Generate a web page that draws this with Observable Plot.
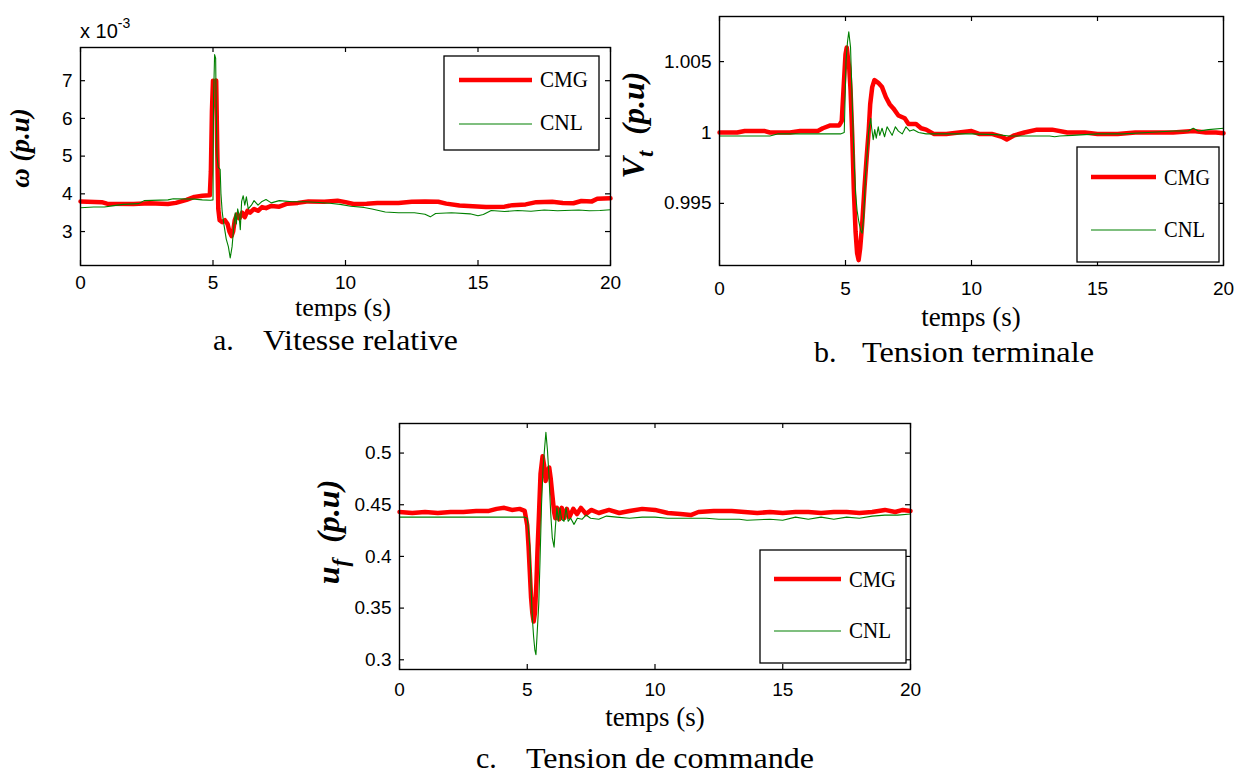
<!DOCTYPE html>
<html>
<head>
<meta charset="utf-8">
<script src="https://cdn.jsdelivr.net/npm/d3@7"></script>
<script src="https://cdn.jsdelivr.net/npm/@observablehq/plot@0.6"></script>
<style>
  html, body { margin: 0; padding: 0; background: #fff; }
  #page { position: relative; width: 1245px; height: 778px; overflow: hidden; background: #fff; }
  .panel { position: absolute; }
  #overlay { position: absolute; left: 0; top: 0; pointer-events: none; }
  .serif { font-family: "Liberation Serif", "Times New Roman", serif; }
  .sans { font-family: "Liberation Sans", Arial, sans-serif; }
</style>
</head>
<body>
<div id="page">
  <div class="panel" id="pa" style="left:0px;top:0px;width:640px;"></div>
  <div class="panel" id="pb" style="left:620px;top:0px;width:625px;"></div>
  <div class="panel" id="pc" style="left:320px;top:390px;width:620px;"></div>
  <svg id="overlay" width="1245" height="778" xmlns="http://www.w3.org/2000/svg">
    <!-- panel a texts -->
    <text class="sans" x="80" y="38" font-size="20">x 10<tspan font-size="14" dy="-10">-3</tspan></text>
    <text class="serif" transform="translate(29,148) rotate(-90)" text-anchor="middle" font-size="27" font-weight="bold" font-style="italic">ω (p.u)</text>
    <text class="serif" x="343" y="316" text-anchor="middle" font-size="26">temps (s)</text>
    <text class="serif" x="213" y="350" font-size="30">a.</text>
    <text class="serif" x="263" y="350" font-size="30" textLength="195" lengthAdjust="spacingAndGlyphs">Vitesse relative</text>
    <!-- legend a -->
    <rect x="444" y="56" width="155" height="94" fill="#fff" stroke="#000" stroke-width="1.3"/>
    <line x1="459" y1="80" x2="532" y2="80" stroke="#ff0000" stroke-width="4.5"/>
    <line x1="459" y1="124" x2="532" y2="124" stroke="#008000" stroke-width="1.1"/>
    <text class="serif" x="540" y="87" font-size="24" textLength="48" lengthAdjust="spacingAndGlyphs">CMG</text>
    <text class="serif" x="540" y="130" font-size="24" textLength="43" lengthAdjust="spacingAndGlyphs">CNL</text>

    <!-- panel b texts -->
    <text class="serif" transform="translate(644,125) rotate(-90)" text-anchor="middle" font-size="32" font-weight="bold" font-style="italic">V<tspan font-size="23" dy="9">t</tspan><tspan dy="-9" xml:space="preserve">  (p.u)</tspan></text>
    <text class="serif" x="971" y="326" text-anchor="middle" font-size="27">temps (s)</text>
    <text class="serif" x="814" y="362" font-size="30">b.</text>
    <text class="serif" x="862" y="362" font-size="30" textLength="232" lengthAdjust="spacingAndGlyphs">Tension terminale</text>
    <!-- legend b -->
    <rect x="1077" y="147" width="142" height="115" fill="#fff" stroke="#000" stroke-width="1.3"/>
    <line x1="1091" y1="177" x2="1156" y2="177" stroke="#ff0000" stroke-width="4.5"/>
    <line x1="1091" y1="230" x2="1156" y2="230" stroke="#008000" stroke-width="1.1"/>
    <text class="serif" x="1164" y="185" font-size="24" textLength="46" lengthAdjust="spacingAndGlyphs">CMG</text>
    <text class="serif" x="1164" y="237" font-size="24" textLength="41" lengthAdjust="spacingAndGlyphs">CNL</text>

    <!-- panel c texts -->
    <text class="serif" transform="translate(339,532) rotate(-90)" text-anchor="middle" font-size="32" font-weight="bold" font-style="italic">u<tspan font-size="23" dy="9">f</tspan><tspan dy="-9" xml:space="preserve">  (p.u)</tspan></text>
    <text class="serif" x="655" y="726" text-anchor="middle" font-size="27">temps (s)</text>
    <text class="serif" x="476" y="768" font-size="30">c.</text>
    <text class="serif" x="526" y="768" font-size="30" textLength="288" lengthAdjust="spacingAndGlyphs">Tension de commande</text>
    <!-- legend c -->
    <rect x="760" y="550" width="146" height="113" fill="#fff" stroke="#000" stroke-width="1.3"/>
    <line x1="774" y1="579" x2="841" y2="579" stroke="#ff0000" stroke-width="4.5"/>
    <line x1="774" y1="631" x2="841" y2="631" stroke="#008000" stroke-width="1.1"/>
    <text class="serif" x="849" y="587" font-size="24" textLength="47" lengthAdjust="spacingAndGlyphs">CMG</text>
    <text class="serif" x="849" y="638" font-size="24" textLength="42" lengthAdjust="spacingAndGlyphs">CNL</text>
  </svg>
</div>
<script>
// ---------- shared ticks ----------
const xTicks = [0, 5, 10, 15, 20];
const omegaTicks = [3, 4, 5, 6, 7];           // x 10^-3
const vtTicks = [0.995, 1, 1.005];
const vtTickLabels = ["0.995", "1", "1.005"];
const ufTicks = [0.3, 0.35, 0.4, 0.45, 0.5];
const ufTickLabels = ["0.3", "0.35", "0.4", "0.45", "0.5"];

// ---------- a. Vitesse relative (omega, x 10^-3 p.u) ----------
const omegaCMG = [[0,3.80],[0.8,3.78],[1.0,3.74],[2.0,3.73],[2.6,3.75],[3.3,3.73],[3.6,3.76],[4.0,3.84],[4.3,3.92],[4.6,3.95],[4.88,3.96],
  [4.92,4.6],[4.96,6.2],[5.0,7.0],[5.06,6.9],[5.12,7.0],[5.16,5.2],[5.2,3.6],[5.25,3.3],[5.35,3.25],[5.45,3.3],[5.55,3.2],[5.62,3.0],
  [5.7,2.88],[5.76,3.0],[5.82,3.3],[5.9,3.45],[6.0,3.35],[6.1,3.5],[6.2,3.38],[6.3,3.55],[6.4,3.5],[6.55,3.6],[6.7,3.55],[6.85,3.65],
  [7.0,3.62],[7.2,3.68],[7.5,3.66],[7.8,3.74],[8.2,3.76],[8.6,3.8],[9.2,3.79],[9.7,3.82],[10.0,3.78],[10.3,3.73],[10.8,3.74],[11.2,3.76],
  [12.0,3.76],[12.5,3.79],[13.0,3.8],[13.5,3.79],[13.8,3.74],[14.3,3.69],[14.8,3.67],[15.3,3.65],[16.0,3.66],[16.3,3.7],[16.8,3.72],
  [17.2,3.78],[17.8,3.79],[18.2,3.76],[18.6,3.75],[18.9,3.81],[19.3,3.8],[19.5,3.87],[20,3.88]];
const omegaCNL = [[0,3.63],[0.5,3.65],[0.9,3.65],[1.2,3.68],[1.6,3.72],[2.2,3.74],[2.4,3.82],[3.3,3.84],[3.5,3.87],[4.3,3.86],[4.6,3.84],
  [4.9,3.83],[5.0,3.84],[5.02,6.5],[5.06,7.69],[5.1,7.6],[5.12,6.3],[5.15,5.0],[5.2,4.7],[5.27,4.65],[5.3,4.0],[5.35,3.5],[5.42,3.15],
  [5.5,2.8],[5.58,2.6],[5.65,2.3],[5.72,2.6],[5.78,3.1],[5.84,3.5],[5.88,3.2],[5.93,3.6],[5.98,3.45],[6.03,3.05],[6.08,3.8],[6.14,3.95],
  [6.2,3.7],[6.26,3.92],[6.33,3.6],[6.45,3.7],[6.55,3.82],[6.7,3.7],[6.85,3.8],[7.0,3.85],[7.2,3.76],[7.5,3.82],[8.0,3.79],[8.5,3.79],
  [9.0,3.77],[9.4,3.75],[9.8,3.72],[10.2,3.67],[10.7,3.64],[11.0,3.6],[11.5,3.52],[12.0,3.5],[12.6,3.5],[13.0,3.46],[13.2,3.39],
  [13.4,3.48],[14.0,3.5],[14.7,3.47],[15.0,3.42],[15.2,3.45],[15.5,3.56],[16.0,3.53],[16.5,3.56],[17.0,3.54],[17.5,3.57],[18.0,3.55],
  [18.8,3.57],[19.2,3.55],[19.6,3.56],[20,3.58]];

// ---------- b. Tension terminale (Vt, p.u) ----------
const vtCMG = [[0,1.0000],[0.7,1.0000],[1.0,1.0001],[1.8,1.0001],[2.0,1.0000],[2.8,1.0000],[3.2,1.0001],[3.9,1.0001],[4.1,1.0003],
  [4.4,1.0005],[4.75,1.0005],[4.85,1.0008],[4.92,1.0030],[5.0,1.0055],[5.05,1.0060],[5.1,1.0052],[5.15,1.0045],[5.2,1.0030],
  [5.27,0.9997],[5.33,0.9960],[5.4,0.9930],[5.46,0.9915],[5.52,0.9910],[5.58,0.9918],[5.66,0.9935],[5.75,0.9960],[5.85,0.9985],
  [5.92,1.0001],[5.98,1.0020],[6.06,1.0032],[6.15,1.0037],[6.3,1.0035],[6.45,1.0032],[6.6,1.0025],[6.75,1.0020],[6.9,1.0017],
  [7.1,1.0012],[7.35,1.0010],[7.5,1.0006],[7.8,1.0006],[8.0,1.0003],[8.2,1.0002],[8.5,0.9999],[9.0,0.9999],[9.5,1.0000],[10.0,1.0001],
  [10.3,0.9999],[10.8,0.9999],[11.2,0.9997],[11.4,0.9995],[11.7,0.9998],[12.1,1.0000],[12.6,1.0002],[13.2,1.0002],[13.8,1.0000],
  [14.5,1.0000],[15.0,0.9999],[15.8,0.9999],[16.5,1.0000],[17.3,1.0000],[18.0,1.0000],[18.8,1.0001],[19.3,1.0000],[19.7,1.0000],[20,0.99995]];
const vtCNL = [[0,0.99975],[2.0,0.99975],[2.3,0.9999],[4.8,0.9999],[4.95,1.0000],[5.02,1.0050],[5.08,1.0064],[5.13,1.0071],[5.2,1.0060],
  [5.27,1.0020],[5.33,0.9985],[5.4,0.9957],[5.46,0.9945],[5.52,0.9938],[5.6,0.9931],[5.66,0.9929],[5.72,0.9940],[5.79,0.9969],
  [5.86,0.9985],[5.92,1.0001],[6.0,1.0010],[6.04,1.0003],[6.1,0.9995],[6.16,1.0002],[6.22,0.9996],[6.3,1.0004],[6.36,0.9998],
  [6.45,1.0003],[6.55,0.9997],[6.65,1.0004],[6.75,1.0001],[6.85,0.9998],[6.98,1.0004],[7.1,1.0001],[7.25,0.9999],[7.4,1.0004],
  [7.55,1.0001],[7.7,1.0002],[7.9,1.0000],[8.2,0.9999],[8.6,0.9999],[9.0,0.9999],[10.0,0.9999],[11.0,0.99985],[11.5,0.99975],
  [12.5,0.99975],[13.1,0.99975],[13.3,0.9997],[13.5,0.99975],[14.0,0.9998],[15.0,0.9999],[16.0,0.9999],[17.0,1.0000],[18.0,1.0001],
  [18.6,1.0001],[18.8,1.0003],[19.0,1.0001],[19.4,1.0002],[20,1.0003]];

// ---------- c. Tension de commande (uf, p.u) ----------
const ufCMG = [[0,0.443],[0.5,0.442],[1.0,0.443],[1.5,0.442],[2.0,0.443],[2.5,0.443],[3.0,0.444],[3.5,0.444],[3.8,0.446],[4.1,0.447],
  [4.4,0.445],[4.7,0.446],[4.9,0.444],[5.0,0.43],[5.05,0.41],[5.1,0.385],[5.15,0.36],[5.2,0.345],[5.25,0.337],[5.3,0.345],[5.36,0.375],
  [5.4,0.405],[5.45,0.435],[5.52,0.48],[5.6,0.497],[5.66,0.488],[5.72,0.473],[5.79,0.483],[5.86,0.486],[5.92,0.475],[5.98,0.46],
  [6.05,0.443],[6.1,0.437],[6.16,0.447],[6.25,0.436],[6.35,0.447],[6.45,0.437],[6.55,0.446],[6.65,0.438],[6.8,0.446],[6.95,0.441],
  [7.1,0.447],[7.3,0.441],[7.5,0.445],[7.8,0.442],[8.2,0.445],[8.6,0.442],[9.0,0.444],[9.5,0.446],[10.0,0.445],[10.5,0.442],[11.0,0.441],
  [11.4,0.440],[11.7,0.443],[12.3,0.444],[13.0,0.444],[13.5,0.443],[14.0,0.442],[14.5,0.443],[15.0,0.442],[15.5,0.443],[16.0,0.443],
  [16.5,0.442],[17.0,0.443],[17.5,0.443],[18.0,0.442],[18.5,0.443],[19.0,0.445],[19.4,0.443],[19.7,0.445],[20,0.444]];
const ufCNL = [[0,0.438],[1,0.438],[2,0.438],[3,0.438],[4,0.438],[4.9,0.438],[5.0,0.437],[5.05,0.425],[5.1,0.41],[5.16,0.364],[5.2,0.34],
  [5.25,0.322],[5.3,0.309],[5.34,0.305],[5.38,0.322],[5.45,0.354],[5.5,0.396],[5.56,0.451],[5.62,0.486],[5.68,0.505],[5.73,0.52],
  [5.79,0.503],[5.85,0.478],[5.92,0.441],[5.98,0.418],[6.05,0.409],[6.1,0.428],[6.16,0.447],[6.22,0.434],[6.28,0.447],[6.34,0.436],
  [6.44,0.434],[6.52,0.447],[6.6,0.434],[6.7,0.437],[6.83,0.431],[6.96,0.437],[7.15,0.436],[7.3,0.44],[7.48,0.437],[7.8,0.436],
  [8.1,0.439],[8.5,0.438],[9.0,0.437],[9.5,0.438],[10.0,0.438],[10.5,0.437],[11.0,0.437],[12.0,0.437],[12.5,0.436],[13.3,0.436],
  [13.6,0.435],[14.5,0.436],[15.0,0.435],[15.5,0.438],[16.0,0.436],[16.5,0.438],[17.0,0.436],[17.5,0.438],[18.0,0.437],[18.5,0.439],
  [19.0,0.440],[19.5,0.440],[20,0.441]];

const RED = "#ff0000", GREEN = "#008000";

function makePanel(o) {
  const fw = o.width - o.marginLeft - o.marginRight;
  const fh = o.height - o.marginTop - o.marginBottom;
  const T = 5;
  const yFmt = d => o.yLabels[o.yTicks.indexOf(d)];
  return Plot.plot({
    width: o.width, height: o.height,
    marginLeft: o.marginLeft, marginRight: o.marginRight,
    marginTop: o.marginTop, marginBottom: o.marginBottom,
    style: { background: "transparent", fontFamily: '"Liberation Sans", Arial, sans-serif', fontSize: "19px", overflow: "visible", color: "#000", maxWidth: "none" },
    x: { domain: [0, 20] },
    y: { domain: o.yDomain },
    marks: [
      Plot.axisX({ ticks: xTicks, tickSize: 0, tickPadding: o.padX, fontSize: 19, label: null, tickFormat: d => String(d) }),
      Plot.axisY({ ticks: o.yTicks, tickSize: 0, tickPadding: 8, fontSize: 19, label: null, tickFormat: yFmt }),
      Plot.ruleX(xTicks, { x: d => d, insetTop: fh - T, stroke: "#000", strokeWidth: 1.2 }),
      Plot.ruleX(xTicks, { x: d => d, insetBottom: fh - T, stroke: "#000", strokeWidth: 1.2 }),
      Plot.ruleY(o.yTicks, { y: d => d, insetRight: fw - T, stroke: "#000", strokeWidth: 1.2 }),
      Plot.ruleY(o.yTicks, { y: d => d, insetLeft: fw - T, stroke: "#000", strokeWidth: 1.2 }),
      Plot.line(o.cmg, { x: d => d[0], y: d => d[1], stroke: RED, strokeWidth: 4.5, strokeLinejoin: "round" }),
      Plot.line(o.cnl, { x: d => d[0], y: d => d[1], stroke: GREEN, strokeWidth: 1.1 }),
      Plot.frame({ stroke: "#000", strokeWidth: 1.4 })
    ]
  });
}

document.getElementById("pa").append(makePanel({
  width: 640, height: 330, marginLeft: 80, marginRight: 30, marginTop: 47, marginBottom: 65, padX: 10,
  yDomain: [2.1, 7.88], yTicks: omegaTicks, yLabels: omegaTicks.map(String),
  cmg: omegaCMG, cnl: omegaCNL
}));
document.getElementById("pb").append(makePanel({
  width: 625, height: 340, marginLeft: 99, marginRight: 22, marginTop: 16, marginBottom: 75, padX: 16,
  yDomain: [0.99062, 1.00818], yTicks: vtTicks, yLabels: vtTickLabels,
  cmg: vtCMG, cnl: vtCNL
}));
document.getElementById("pc").append(makePanel({
  width: 620, height: 350, marginLeft: 79, marginRight: 30, marginTop: 33, marginBottom: 71, padX: 13,
  yDomain: [0.2906, 0.5286], yTicks: ufTicks, yLabels: ufTickLabels,
  cmg: ufCMG, cnl: ufCNL
}));
</script>
</body>
</html>
